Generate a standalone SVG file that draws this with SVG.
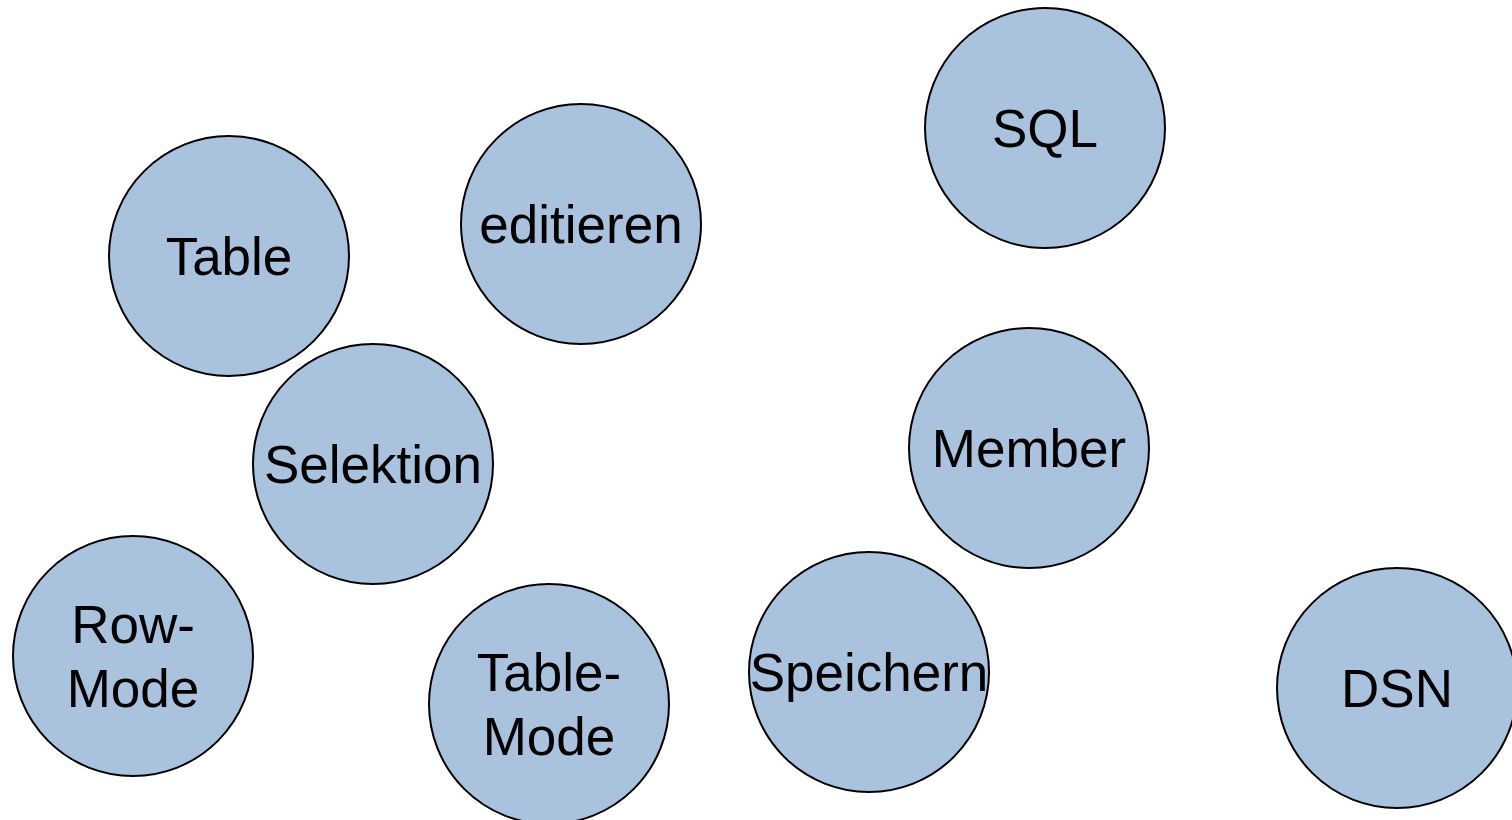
<svg xmlns="http://www.w3.org/2000/svg" width="1512" height="820" viewBox="0 0 1512 820">
<style>
.n{fill:#a9c3df;stroke:#000;stroke-width:2}
.t{font-family:"Liberation Sans",Arial,sans-serif;font-size:53px;fill:#000;text-anchor:middle}
</style>
<rect width="1512" height="820" fill="#fff"/>
<g id="connectors"/>
<g id="table"><circle class="n" cx="229" cy="256" r="120"/><text class="t" x="229" y="275">Table</text></g>
<g id="editieren"><circle class="n" cx="581" cy="224" r="120"/><text class="t" x="581" y="243">editieren</text></g>
<g id="sql"><circle class="n" cx="1045" cy="128" r="120"/><text class="t" x="1045" y="147">SQL</text></g>
<g id="selektion"><circle class="n" cx="373" cy="464" r="120"/><text class="t" x="373" y="483">Selektion</text></g>
<g id="member"><circle class="n" cx="1029" cy="448" r="120"/><text class="t" x="1029" y="467">Member</text></g>
<g id="rowmode"><circle class="n" cx="133" cy="656" r="120"/><text class="t" x="133" y="643">Row-</text><text class="t" x="133" y="707">Mode</text></g>
<g id="tablemode"><circle class="n" cx="549" cy="704" r="120"/><text class="t" x="549" y="691">Table-</text><text class="t" x="549" y="755">Mode</text></g>
<g id="speichern"><circle class="n" cx="869" cy="672" r="120"/><text class="t" x="869" y="691">Speichern</text></g>
<g id="dsn"><circle class="n" cx="1397" cy="688" r="120"/><text class="t" x="1397" y="707">DSN</text></g>
</svg>
